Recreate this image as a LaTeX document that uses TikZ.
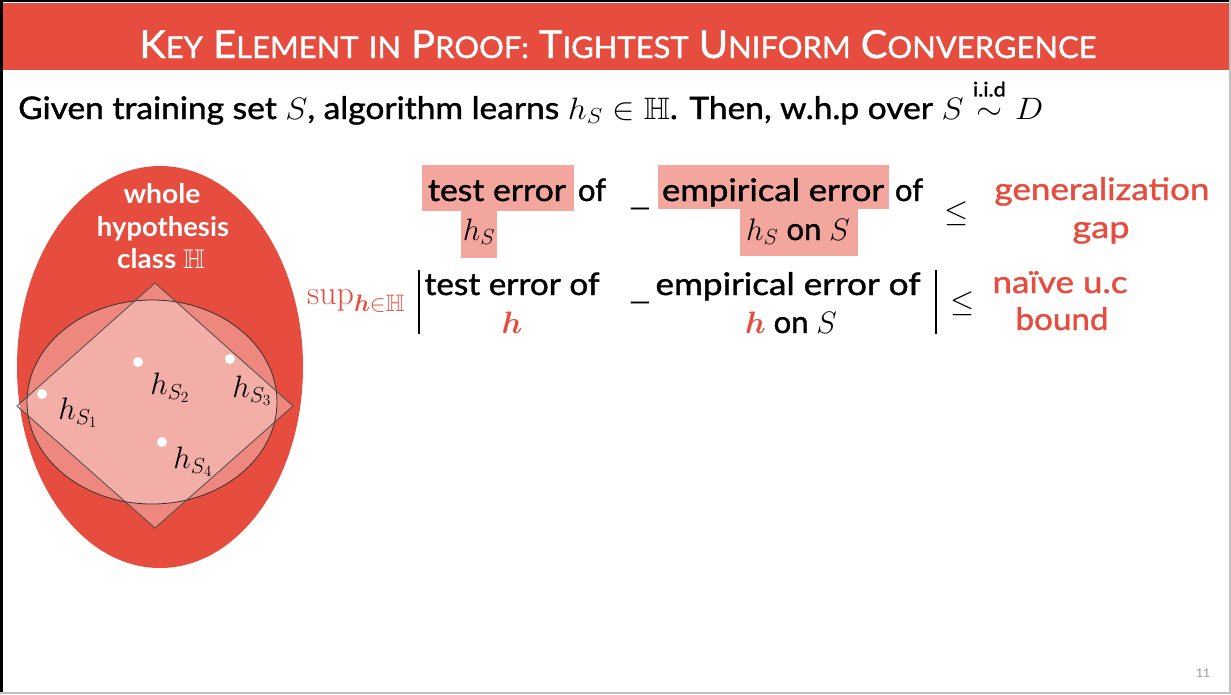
\RequirePackage{fix-cm}
\documentclass[tikz,border=0pt]{standalone}
\usepackage{graphicx}
\usepackage{amsmath,amssymb,bm}
\usepackage[no-math]{fontspec}
\setmainfont{Lato}
\newfontfamily\medfont[FakeBold=1.2]{Lato}
\definecolor{slidered}{RGB}{230,77,62}
\definecolor{hl}{RGB}{242,166,158}
\definecolor{pagegray}{RGB}{150,150,150}
\newcommand{\scw}[2]{{\fontsize{36}{40}\selectfont #1}{\fontsize{28}{32}\selectfont #2}}
\newcommand{\fitw}[2]{\resizebox{#1}{\height}{#2}}
\begin{document}
\begin{tikzpicture}[x=1pt,y=-1pt,
  body/.style={font=\medfont\fontsize{31}{36}\selectfont, inner sep=0pt, anchor=base},
  redtxt/.style={font=\medfont\fontsize{31}{36}\selectfont, text=slidered, inner sep=0pt, anchor=base},
  minus/.style={font=\fontsize{31}{36}\selectfont, inner sep=0pt, anchor=base},
  lbl/.style={font=\fontsize{31}{34}\selectfont, inner sep=0pt},
  dot/.style={circle, fill=white, draw=none, minimum size=10pt, inner sep=0pt},
  wtxt/.style={font=\bfseries\fontsize{27}{30}\selectfont, text=white, inner sep=0pt, anchor=base}]
\useasboundingbox (0,0) rectangle (1231,694);
\fill[white] (0,0) rectangle (1231,694);
% frame
\fill[slidered] (3,3) rectangle (1231,70);
\draw[line width=3pt] (1.5,0) -- (1.5,694);
\draw[line width=2.5pt] (0,1.2) -- (1231,1.2);
\draw[pagegray!60, line width=1.5pt] (1230,0) -- (1230,694);
\draw[pagegray!60, line width=1.5pt] (0,693) -- (1231,693);
% title
\node (title) [text=white, inner sep=0pt, anchor=base, font=\medfont\fontsize{36}{40}\selectfont] at (618,58)
 {\resizebox{957pt}{28pt}{\scw{K}{EY} \scw{E}{LEMENT} \scw{}{IN} \scw{P}{ROOF:} \scw{T}{IGHTEST} \scw{U}{NIFORM} \scw{C}{ONVERGENCE}}};
% subtitle
\node (sub) [font=\medfont\fontsize{31}{36}\selectfont, inner sep=0pt, anchor=base west] at (18,119)
 {\fitw{1025pt}{Given training set $S$, algorithm learns $h_S\in\mathbb{H}$. Then, w.h.p over $S\overset{\raisebox{5pt}{\text{\fontsize{20}{22}\selectfont i.i.d}}}{\sim}D$}};
% hypothesis diagram
\fill[slidered] (160,367) ellipse [x radius=143, y radius=201];
\node (whole) [wtxt] at (162,203) {\fitw{77pt}{whole}};
\node (hyp) [wtxt] at (163,236) {\fitw{132pt}{hypothesis}};
\node (cls) [wtxt] at (161,268) {\fitw{88pt}{class $\mathbb{H}$}};
\fill[white, fill opacity=0.33] (152,402) ellipse [x radius=125, y radius=102];
\fill[white, fill opacity=0.33] (155,283) -- (293,406) -- (155,528) -- (17,406) -- cycle;
\draw[black!80, line width=0.8pt] (152,402) ellipse [x radius=125, y radius=102];
\draw[black!70, line width=0.8pt] (155,283) -- (293,406) -- (155,528) -- (17,406) -- cycle;
\node (d1) [dot] at (42,394) {};
\node (d2) [dot] at (138,362) {};
\node (d3) [dot] at (230,359) {};
\node (d4) [dot] at (162,442) {};
\node (l1) [lbl] at (78,413) {$h_{S_1}$};
\node (l2) [lbl] at (170,388) {$h_{S_2}$};
\node (l3) [lbl] at (252,391) {$h_{S_3}$};
\node (l4) [lbl] at (193,462) {$h_{S_4}$};
% row 1 highlights
\fill[hl] (422,165) rectangle (574,211);
\fill[hl] (461,211) rectangle (497,258);
\fill[hl] (658,165) rectangle (889,209);
\fill[hl] (740,209) rectangle (858,256);
% row 1 text
\node (te1) [body] at (497,201) {\fitw{138pt}{test error}};
\node (of1) [body] at (592,201) {of};
\node (m1) [minus] at (640,205) {\scalebox{1.5}[1]{\_}};
\node (hs1) [body] at (479,240) {$h_S$};
\node (ee1) [body] at (773,201) {\fitw{222pt}{empirical error}};
\node (of2) [body] at (909,201) {of};
\node (hs2) [body] at (798,240) {$h_S$ on $S$};
\node (le1) [body] at (957,221) {$\leq$};
\node (gen) [redtxt] at (1102,200) {\fitw{215pt}{generalization}};
\node (gap) [redtxt] at (1101,238) {\fitw{57pt}{gap}};
% row 2
\node (sup) [inner sep=0pt, anchor=base, text=slidered, font=\fontsize{34}{36}\selectfont] at (356,304) {$\mathrm{sup}_{\bm{h}\in\mathbb{H}}$};
\draw[line width=1.5pt] (419,270) coordinate (bl1) -- (419,334) coordinate (bl2);
\node (te2) [body] at (512,295) {\fitw{175pt}{test error of}};
\node (h2) [body, text=slidered] at (512,333) {$\bm{h}$};
\node (m2) [minus] at (640,299) {\scalebox{1.5}[1]{\_}};
\node (ee2) [body] at (788,295) {\fitw{265pt}{empirical error of}};
\node (hs3) [body] at (791,333) {$\textcolor{slidered}{\bm{h}}$ on $S$};
\draw[line width=1.5pt] (936,270) coordinate (br1) -- (936,334) coordinate (br2);
\node (le2) [body] at (963,311) {$\leq$};
\node (naive) [redtxt] at (1060,293) {\fitw{135pt}{naïve u.c}};
\node (bound) [redtxt] at (1062,330) {\fitw{93pt}{bound}};
% page number
\node (pg) [inner sep=0pt, anchor=base, text=pagegray, font=\fontsize{12}{14}\selectfont] at (1203,677) {11};
\end{tikzpicture}
\end{document}
